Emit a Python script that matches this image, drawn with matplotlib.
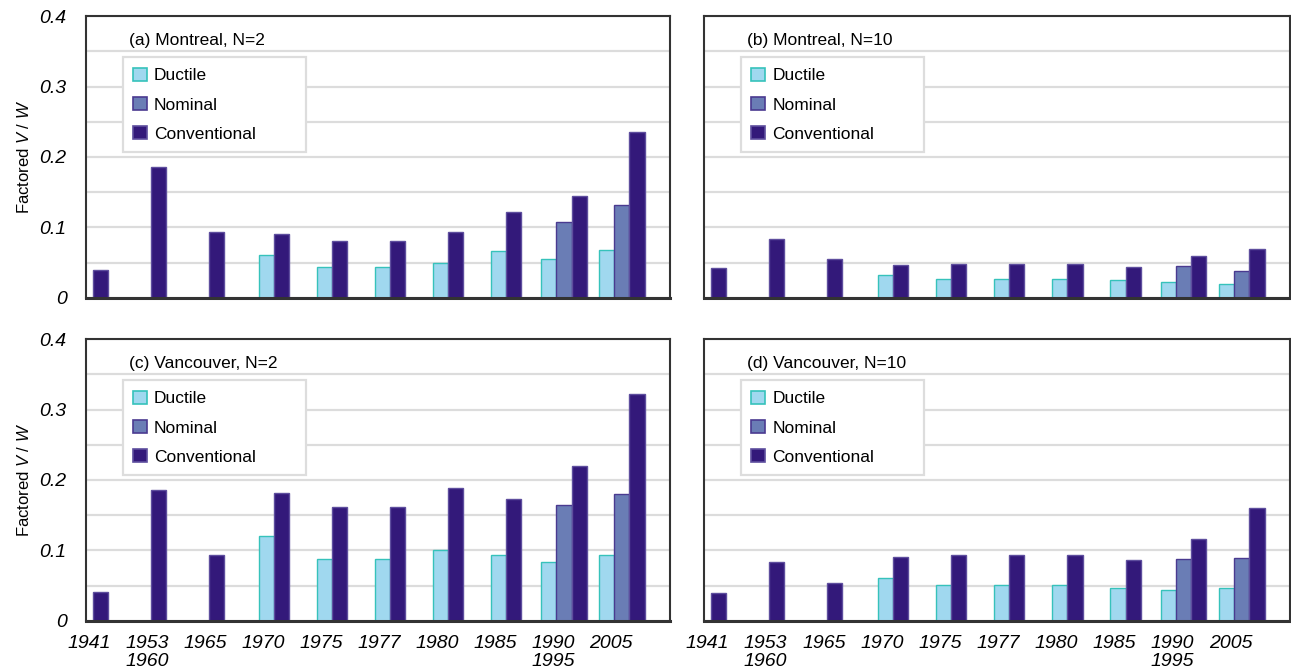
import numpy as np
import matplotlib
matplotlib.use("Agg")
import matplotlib.pyplot as plt
from matplotlib.patches import Patch

plt.rcParams["font.family"] = ["Liberation Sans", "DejaVu Sans"]
plt.rcParams["mathtext.fontset"] = "custom"
plt.rcParams["mathtext.it"] = "Liberation Sans:italic"
plt.rcParams["mathtext.rm"] = "Liberation Sans"

# categories (code years)
years = ["1941", "1953\n1960", "1965", "1970", "1975", "1977", "1980", "1985", "1990\n1995", "2005"]
series_names = ["Ductile", "Nominal", "Conventional"]

# (a) Montreal, N=2
ductile_a = [None, None, None, 0.061, 0.044, 0.044, 0.050, 0.066, 0.055, 0.068]
nominal_a = [None, None, None, None, None, None, None, None, 0.108, 0.131]
conv_a = [0.040, 0.185, 0.093, 0.090, 0.081, 0.081, 0.094, 0.122, 0.144, 0.236]

# (b) Montreal, N=10
ductile_b = [None, None, None, 0.032, 0.027, 0.027, 0.027, 0.025, 0.023, 0.020]
nominal_b = [None, None, None, None, None, None, None, None, 0.045, 0.038]
conv_b = [0.042, 0.084, 0.055, 0.046, 0.048, 0.048, 0.048, 0.044, 0.059, 0.069]

# (c) Vancouver, N=2
ductile_c = [None, None, None, 0.121, 0.087, 0.087, 0.101, 0.094, 0.083, 0.093]
nominal_c = [None, None, None, None, None, None, None, None, 0.165, 0.180]
conv_c = [0.041, 0.186, 0.093, 0.181, 0.161, 0.161, 0.188, 0.173, 0.220, 0.322]

# (d) Vancouver, N=10
ductile_d = [None, None, None, 0.061, 0.051, 0.051, 0.051, 0.046, 0.044, 0.046]
nominal_d = [None, None, None, None, None, None, None, None, 0.087, 0.089]
conv_d = [0.040, 0.083, 0.053, 0.090, 0.094, 0.094, 0.094, 0.086, 0.116, 0.160]

panels = [
    ("(a) Montreal, N=2", [ductile_a, nominal_a, conv_a]),
    ("(b) Montreal, N=10", [ductile_b, nominal_b, conv_b]),
    ("(c) Vancouver, N=2", [ductile_c, nominal_c, conv_c]),
    ("(d) Vancouver, N=10", [ductile_d, nominal_d, conv_d]),
]

fills = ["#a0d8ef", "#6a7db5", "#33197a"]
edges = ["#36c2bb", "#4a3a90", "#5e4e9e"]

fig = plt.figure(figsize=(12.91, 6.72), dpi=100)
rects = [
    [0.0666, 0.557, 0.4524, 0.419],
    [0.5453, 0.557, 0.4540, 0.419],
    [0.0666, 0.0763, 0.4524, 0.419],
    [0.5453, 0.0763, 0.4540, 0.419],
]

width = 0.26
for k, (title, data) in enumerate(panels):
    ax = fig.add_axes(rects[k])
    ax.set_axisbelow(True)
    for i in range(len(years)):
        present = [s for s in range(3) if data[s][i] is not None]
        n = len(present)
        for j, s in enumerate(present):
            x = i + (j - (n - 1) / 2) * width
            ax.bar(x, data[s][i], width=width, color=fills[s],
                   edgecolor=edges[s], linewidth=1.0, zorder=2)

    ax.set_xlim(-0.25, 9.83)
    ax.set_ylim(0, 0.4)
    ax.set_yticks([0, 0.1, 0.2, 0.3, 0.4])
    ax.set_yticks(np.arange(0.05, 0.4, 0.1), minor=True)
    ax.grid(True, which="both", axis="y", color="#dcdcdc", linewidth=1.6)
    ax.tick_params(axis="both", which="both", length=0)

    for sp in ax.spines.values():
        sp.set_color("#333333")
        sp.set_linewidth(1.5)
    ax.spines["bottom"].set_linewidth(2.2)

    if k >= 2:
        ax.set_xticks(np.arange(len(years)) - 0.19)
        ax.set_xticklabels(years, fontsize=14, style="italic")
        ax.tick_params(axis="x", pad=10)
        for lab in ax.get_xticklabels():
            lab.set_linespacing(1.1)
    else:
        ax.set_xticks([])

    if k % 2 == 0:
        ax.set_yticklabels(["0", "0.1", "0.2", "0.3", "0.4"], fontsize=14, style="italic")
        ax.tick_params(axis="y", pad=14)
        ax.set_ylabel("Factored $V$ / $W$", fontsize=12)
        ax.yaxis.set_label_coords(-0.093, 0.5)
    else:
        ax.set_yticklabels([])

    ax.text(0.074, 0.915, title, transform=ax.transAxes, fontsize=12.5,
            ha="left", va="center")

    handles = [Patch(facecolor=fills[s], edgecolor=edges[s], linewidth=1.2)
               for s in range(3)]
    leg = ax.legend(handles, series_names, loc="upper left",
                    bbox_to_anchor=(0.063, 0.854 - 0.34, 0.313, 0.34),
                    mode="expand", borderaxespad=0, fontsize=12.5,
                    handlelength=0.8, handleheight=0.8, handletextpad=0.4,
                    labelspacing=0.78, borderpad=0.6, fancybox=False,
                    framealpha=1, edgecolor="#dddddd")
    leg.get_frame().set_linewidth(1.6)

fig.savefig("out.png", dpi=100)
